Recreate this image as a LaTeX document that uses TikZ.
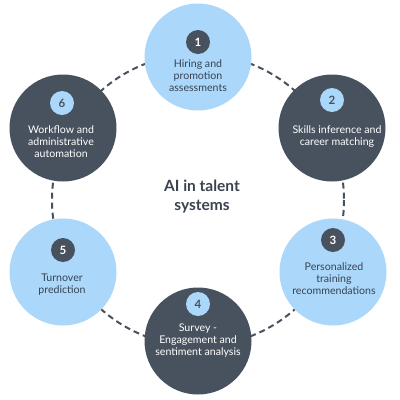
\documentclass[tikz,border=0pt]{standalone}
\usepackage{fontspec}
\setmainfont{Lato}
\definecolor{lblue}{HTML}{AAD7FA}
\definecolor{dgray}{HTML}{48525F}
\definecolor{tgray}{HTML}{3A4350}
\tikzset{
  bigblue/.style={circle, fill=lblue, minimum size=107pt, inner sep=0pt},
  bigdark/.style={circle, fill=dgray, minimum size=107pt, inner sep=0pt},
  badgedark/.style={circle, fill=dgray, minimum size=24pt, inner sep=0pt, text=white, font=\fontsize{11.5}{12}\selectfont\bfseries},
  badgeblue/.style={circle, fill=lblue, minimum size=24pt, inner sep=0pt, text=dgray, font=\fontsize{11.5}{12}\selectfont\bfseries},
  lbl/.style={align=center, inner sep=0pt, font=\fontsize{10.6}{12}\selectfont},
  lbldark/.style={lbl, text=tgray},
  lbllight/.style={lbl, text=white},
  ring/.style={draw=dgray, line width=2pt, dash pattern=on 6pt off 4pt}
}
\begin{document}
\begin{tikzpicture}[x=1pt,y=-1pt]
\useasboundingbox (0,0) rectangle (400,400);
\fill[white] (0,0) rectangle (400,400);
\coordinate (ctr) at (198,200);
\draw[ring] (ctr) circle[radius=146];
% big circles
\node[bigblue] (c1) at (198,57) {};
\node[bigdark] (c2) at (332,128) {};
\node[bigblue] (c3) at (333,272) {};
\node[bigdark] (c4) at (198,341) {};
\node[bigblue] (c5) at (63,272) {};
\node[bigdark] (c6) at (63,128) {};
% badges
\node[badgedark] (b1) at (198,42) {1};
\node[badgeblue] (b2) at (332,100) {2};
\node[badgedark] (b3) at (333,240) {3};
\node[badgeblue] (b4) at (198,304) {4};
\node[badgedark] (b5) at (63,250) {5};
\node[badgeblue] (b6) at (62,103) {6};
% labels
\node[lbldark, anchor=north] (t1) at (198,59) {Hiring and\\promotion\\assessments};
\node[lbllight, anchor=north] (t2) at (337,125) {Skills inference and\\career matching};
\node[lbldark, anchor=north] (t3) at (334,262) {Personalized\\training\\recommendations};
\node[lbllight, anchor=north] (t4) at (198,324) {Survey -\\Engagement and\\sentiment analysis};
\node[lbldark, anchor=north] (t5) at (62,274) {Turnover\\prediction};
\node[lbllight, anchor=north] (t6) at (61,125) {Workflow and\\administrative\\automation};
% title
\node[align=center, text=tgray, font=\fontsize{15.5}{19}\selectfont\bfseries] (title) at (202,197) {AI in talent\\systems};
\end{tikzpicture}
\end{document}
